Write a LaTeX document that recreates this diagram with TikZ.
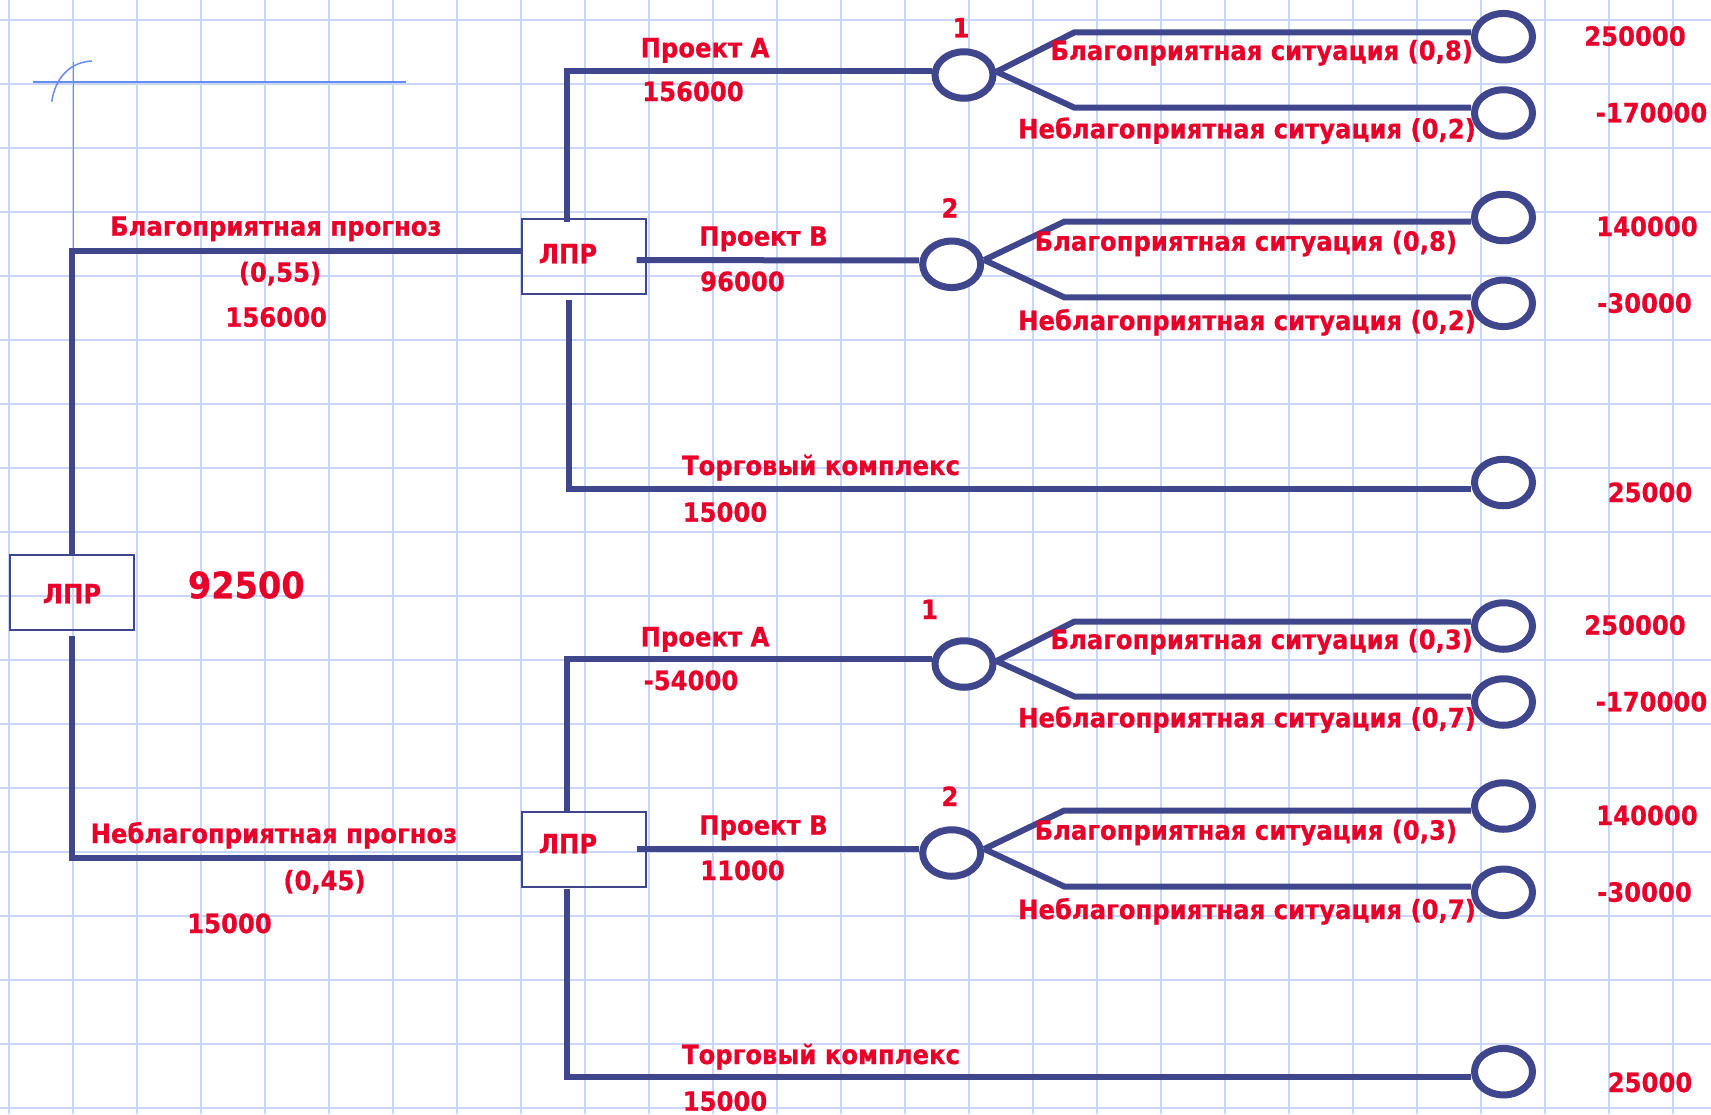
\documentclass[tikz,border=0pt]{standalone}
\usepackage{fontspec}
\newfontfamily\lblfont[FakeStretch=0.917,FakeBold=0.6]{DejaVu Sans}
\usetikzlibrary{shapes.geometric}
\definecolor{navyln}{RGB}{64,70,140}
\definecolor{lblred}{RGB}{230,0,42}
\definecolor{gridc}{RGB}{202,214,248}
\definecolor{thinb}{RGB}{105,140,240}
\pgfdeclarelayer{gridlayer}
\pgfdeclarelayer{linelayer}
\pgfsetlayers{gridlayer,linelayer,main}
\tikzset{
  lbl/.style={text=lblred, font=\lblfont\bfseries\fontsize{26.5}{30}\selectfont, inner sep=0pt, anchor=base},
  biglbl/.style={text=lblred, font=\lblfont\bfseries\fontsize{36.6}{40}\selectfont, inner sep=0pt, anchor=base},
  conn/.style={draw=navyln, line width=6pt},
  dbox/.style={rectangle, draw=navyln, line width=2pt, minimum width=124pt, minimum height=75pt, inner sep=0pt},
  chance/.style={ellipse, draw=navyln, fill=white, line width=7pt, minimum width=58pt, minimum height=46.5pt, inner sep=0pt},
  gridln/.style={draw=gridc, line width=2pt},
  thinln/.style={draw=thinb, line width=1.5pt},
}
\begin{document}
\begin{tikzpicture}[x=1pt,y=-1pt]
\useasboundingbox (0,0) rectangle (1711,1114);
\begin{pgfonlayer}{gridlayer}
\fill[white] (0,0) rectangle (1711,1114);
\foreach \i in {0,...,26} \draw[gridln] ({8.7+64*\i},0) -- ({8.7+64*\i},1114);
\foreach \j in {0,...,17} \draw[gridln] (0,{20+64*\j}) -- (1711,{20+64*\j});
% thin blue marks
\draw[thinln] (33,82) -- (406,82);
\draw[thinln] (73.4,62) -- (73.4,249);
\draw[thinln] (51.8,101.7) .. controls (55,78) and (70,62) .. (92,61);
\end{pgfonlayer}

% decision boxes
\node[dbox] (r) at (72,592) {};
\node[dbox] (u) at (583.5,256.2) {};
\node[dbox] (l) at (583.5,849) {};

% chance nodes
\node[chance] (c1) at (964,75) {};
\node[chance] (c2) at (951.7,264.3) {};
\node[chance] (c3) at (964,664) {};
\node[chance] (c4) at (951.7,853) {};

% terminal nodes
\node[chance] (t1) at (1503.5,36.7) {};
\node[chance] (t2) at (1503.5,113) {};
\node[chance] (t3) at (1503.5,217.5) {};
\node[chance] (t4) at (1503.5,303.3) {};
\node[chance] (t5) at (1503.5,482.5) {};
\node[chance] (t6) at (1503.5,626) {};
\node[chance] (t7) at (1503.5,702) {};
\node[chance] (t8) at (1503.5,806) {};
\node[chance] (t9) at (1503.5,892.3) {};
\node[chance] (t10) at (1503.5,1071.7) {};

\begin{pgfonlayer}{linelayer}
\draw[conn] (r.north) |- ([yshift=5pt]u.west);
\draw[conn] ([yshift=-5pt]r.south) |- ([yshift=-9.3pt]l.west);
% upper subtree
\draw[conn] ([xshift=-16.5pt,yshift=-4pt]u.north) |- ([yshift=4pt]c1.west);
\draw[conn] ([xshift=-10pt,yshift=-4pt]u.east) -- ([yshift=4pt]c2.west);
\draw[conn] ([xshift=-14.5pt,yshift=-5pt]u.south) |- ([yshift=-6pt]t5.west);
\draw[conn] ([yshift=3.3pt]c1.east) -- ++(78,-39.4) -- ([yshift=4.4pt]t1.west);
\draw[conn] ([yshift=3.3pt]c1.east) -- ++(78,36) -- ([yshift=5.3pt]t2.west);
\draw[conn] ([yshift=4.3pt]c2.east) -- ++(80,-38.3) -- ([yshift=-4.2pt]t3.west);
\draw[conn] ([yshift=4.3pt]c2.east) -- ++(80,37.3) -- ([yshift=6pt]t4.west);
% lower subtree
\draw[conn] ([xshift=-16.5pt]l.north) |- ([yshift=5pt]c3.west);
\draw[conn] ([xshift=-10pt]l.east) -- ([yshift=4pt]c4.west);
\draw[conn] ([xshift=-17pt,yshift=-1pt]l.south) |- ([yshift=-5.3pt]t10.west);
\draw[conn] ([yshift=3pt]c3.east) -- ++(78,-39.5) -- ([yshift=4.5pt]t6.west);
\draw[conn] ([yshift=3pt]c3.east) -- ++(78,35.5) -- ([yshift=5.5pt]t7.west);
\draw[conn] ([yshift=4pt]c4.east) -- ++(80,-38.5) -- ([yshift=-4.5pt]t8.west);
\draw[conn] ([yshift=4pt]c4.east) -- ++(80,37.5) -- ([yshift=5.8pt]t9.west);
\end{pgfonlayer}

% labels: left part
\node[lbl] (rt) at (72,603.3) {ЛПР};
\node[biglbl] (ev) at (246.3,598.3) {92500};
\node[lbl] (g1) at (275.9,235.7) {Благоприятная прогноз};
\node[lbl] (g2) at (280,281.7) {(0,55)};
\node[lbl] (g3) at (276.2,326.7) {156000};
\node[lbl] (b1) at (274,843) {Неблагоприятная прогноз};
\node[lbl] (b2) at (324.5,890) {(0,45)};
\node[lbl] (b3) at (229.5,933) {15000};
\node[lbl] (ut) at (568,263.3) {ЛПР};
\node[lbl] (lt) at (568,853.3) {ЛПР};

% upper subtree labels
\node[lbl] (ua1) at (705,57.3) {Проект А};
\node[lbl] (ua2) at (693,101) {156000};
\node[lbl] (un1) at (961,37.3) {1};
\node[lbl] (ub1) at (763.5,245.7) {Проект В};
\node[lbl] (ub2) at (742.5,291) {96000};
\node[lbl] (un2) at (950,217.7) {2};
\node[lbl] (uc1) at (821,475) {Торговый комплекс};
\node[lbl] (uc2) at (725,521.7) {15000};
\node[lbl] (us1) at (1261.7,60) {Благоприятная ситуация (0,8)};
\node[lbl] (us2) at (1247,138.3) {Неблагоприятная ситуация (0,2)};
\node[lbl] (us3) at (1245.8,250.7) {Благоприятная ситуация (0,8)};
\node[lbl] (us4) at (1247,330) {Неблагоприятная ситуация (0,2)};
\node[lbl] (uv1) at (1635,45.7) {250000};
\node[lbl] (uv2) at (1651.5,122.3) {-170000};
\node[lbl] (uv3) at (1647,236) {140000};
\node[lbl] (uv4) at (1644.5,312.7) {-30000};
\node[lbl] (uv5) at (1650,502) {25000};

% lower subtree labels
\node[lbl] (la1) at (705,646.3) {Проект А};
\node[lbl] (la2) at (691,690) {-54000};
\node[lbl] (ln1) at (929.5,619) {1};
\node[lbl] (lb1) at (763.5,834.7) {Проект В};
\node[lbl] (lb2) at (742.5,880) {11000};
\node[lbl] (ln2) at (950,806) {2};
\node[lbl] (lc1) at (821,1064) {Торговый комплекс};
\node[lbl] (lc2) at (725,1110.7) {15000};
\node[lbl] (ls1) at (1261.7,649) {Благоприятная ситуация (0,3)};
\node[lbl] (ls2) at (1247,727.3) {Неблагоприятная ситуация (0,7)};
\node[lbl] (ls3) at (1245.8,839.7) {Благоприятная ситуация (0,3)};
\node[lbl] (ls4) at (1247,919) {Неблагоприятная ситуация (0,7)};
\node[lbl] (lv1) at (1635,634.7) {250000};
\node[lbl] (lv2) at (1651.5,711.3) {-170000};
\node[lbl] (lv3) at (1647,825) {140000};
\node[lbl] (lv4) at (1644.5,901.7) {-30000};
\node[lbl] (lv5) at (1650,1092) {25000};
\end{tikzpicture}
\end{document}
